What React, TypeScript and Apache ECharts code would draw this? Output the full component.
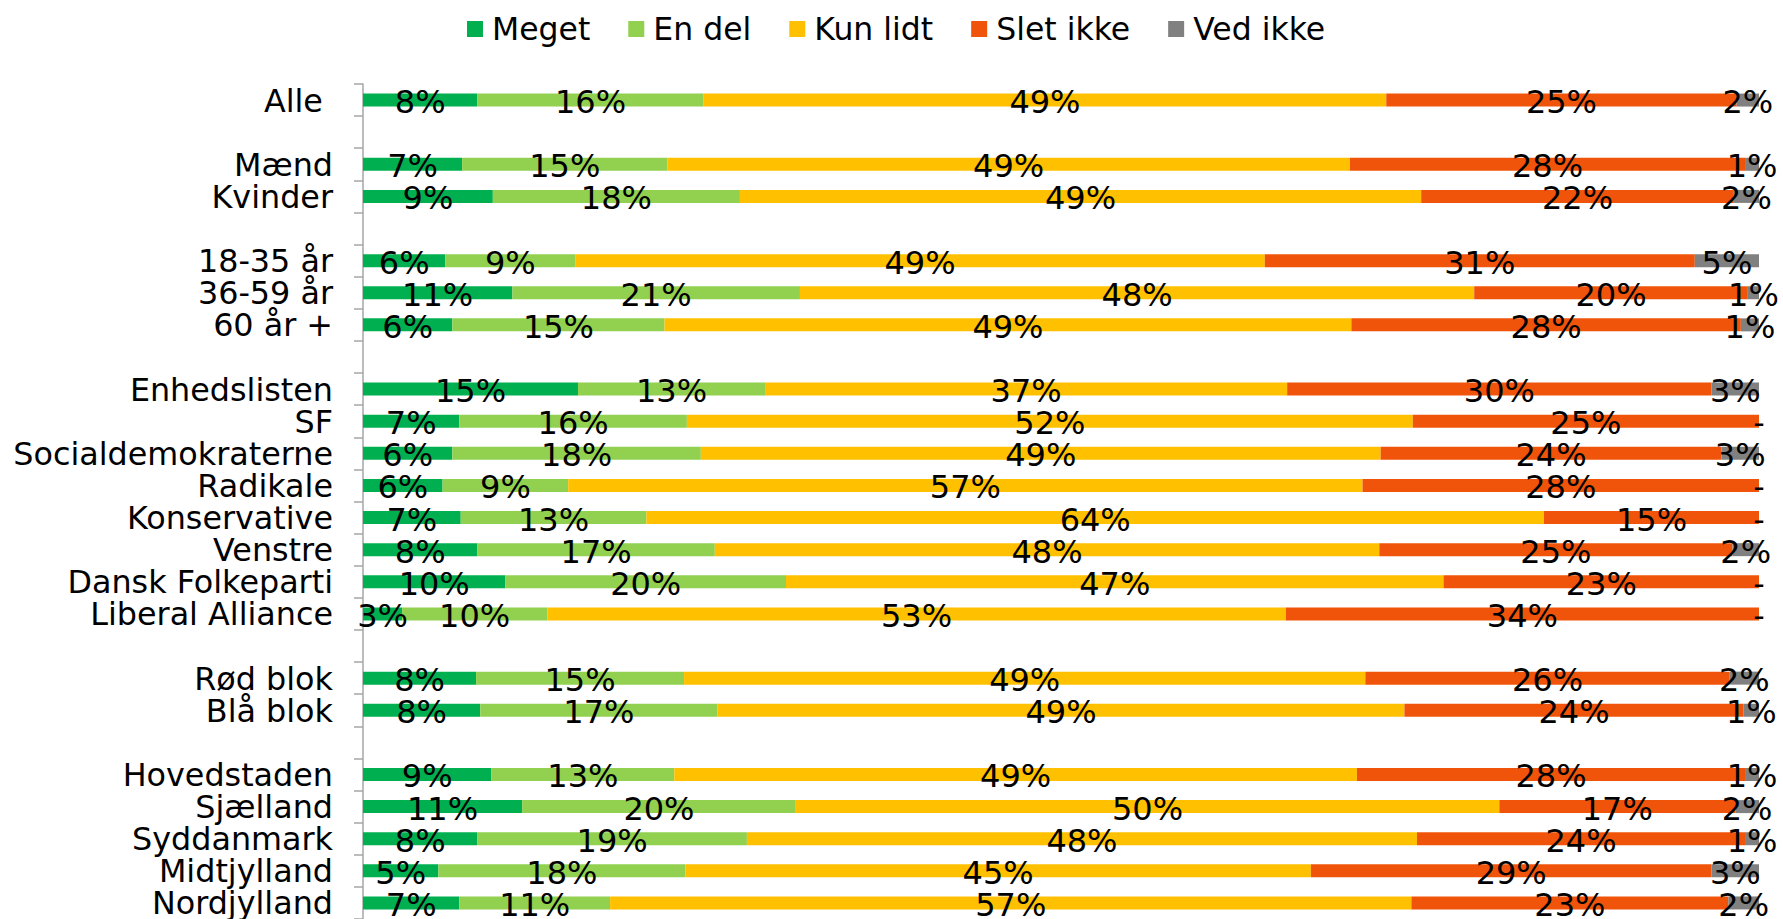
import React, { useEffect, useRef } from 'react';
import * as echarts from 'echarts';

const categories = [
  'Alle\u00a0', '', 'Mænd', 'Kvinder', '', '18-35 år', '36-59 år', '60 år +', '',
  'Enhedslisten', 'SF', 'Socialdemokraterne', 'Radikale', 'Konservative', 'Venstre',
  'Dansk Folkeparti', 'Liberal Alliance', '', 'Rød blok', 'Blå blok', '',
  'Hovedstaden', 'Sjælland', 'Syddanmark', 'Midtjylland', 'Nordjylland',
];

const seriesNames = ['Meget', 'En del', 'Kun lidt', 'Slet ikke', 'Ved ikke'];

const meget = [8.2, null, 7.1, 9.3, null, 5.9, 10.7, 6.4, null, 15.4, 6.9, 6.4, 5.7, 7.0, 8.2, 10.2, 2.8, null, 8.1, 8.4, null, 9.2, 11.4, 8.2, 5.4, 6.9];
const enDel = [16.2, null, 14.7, 17.7, null, 9.3, 20.6, 15.2, null, 13.4, 16.3, 17.8, 9.0, 13.3, 17.0, 20.1, 10.4, null, 14.9, 17.0, null, 13.1, 19.6, 19.3, 17.7, 10.8];
const kunLidt = [48.9, null, 48.9, 48.8, null, 49.4, 48.3, 49.2, null, 37.4, 52.0, 48.7, 56.9, 64.3, 47.6, 47.1, 52.9, null, 48.8, 49.2, null, 48.9, 50.4, 48.0, 44.8, 57.4];
const sletIkke = [25.1, null, 28.3, 22.4, null, 30.8, 19.6, 27.9, null, 30.4, 24.8, 24.4, 28.4, 15.4, 25.3, 22.6, 33.9, null, 26.1, 24.3, null, 27.8, 16.9, 23.5, 28.7, 22.7];
const vedIkke = [1.6, null, 1.0, 1.8, null, 4.6, 0.8, 1.3, null, 3.4, 0, 2.7, 0, 0, 1.9, 0, 0, null, 2.1, 1.1, null, 1.0, 1.7, 1.0, 3.4, 2.2];

const seriesData = [meget, enDel, kunLidt, sletIkke, vedIkke];
const colors = ['#00B050', '#92D050', '#FFC000', '#F0540A', '#808080'];

const FONT = 'DejaVu Sans, Verdana, sans-serif';

export default function App() {
  const ref = useRef<HTMLDivElement>(null);

  useEffect(() => {
    document.body.style.margin = '0';
    document.body.style.overflow = 'hidden';
    if (!ref.current) return;
    const chart = echarts.init(ref.current, undefined, { renderer: 'svg' });
    chart.setOption({
      animation: false,
      backgroundColor: '#ffffff',
      legend: {
        data: seriesNames,
        top: 8,
        left: 462,
        icon: 'rect',
        itemWidth: 16,
        itemHeight: 16,
        itemGap: 38,
        textStyle: {
          fontSize: 31.5,
          fontFamily: FONT,
          color: '#000',
          padding: [0, 0, 0, 4],
        },
      },
      grid: { left: 363, right: 24, top: 84, bottom: -1, containLabel: false },
      xAxis: {
        type: 'value',
        min: 0,
        max: 100,
        show: false,
      },
      yAxis: {
        type: 'category',
        data: categories,
        inverse: true,
        axisLine: { show: true, lineStyle: { color: '#A6A6A6', width: 1.5 } },
        axisTick: { show: true, length: 9, interval: 0, lineStyle: { color: '#A6A6A6', width: 1.5 } },
        axisLabel: {
          interval: 0,
          fontSize: 31.8,
          fontFamily: FONT,
          color: '#000',
          margin: 30,
        },
      },
      series: seriesNames.map((name, i) => ({
        name,
        type: 'bar',
        stack: 'total',
        barWidth: 13,
        itemStyle: { color: colors[i] },
        label: {
          show: true,
          position: 'inside',
          color: '#000',
          fontSize: 32,
          fontFamily: FONT,
          offset: [0, 2],
          formatter: (p: any) => (p.value === 0 ? '-' : Math.round(p.value) + '%'),
        },
        data: seriesData[i],
      })),
    });
    return () => chart.dispose();
  }, []);

  return <div ref={ref} style={{ width: 1783, height: 919 }} />;
}
